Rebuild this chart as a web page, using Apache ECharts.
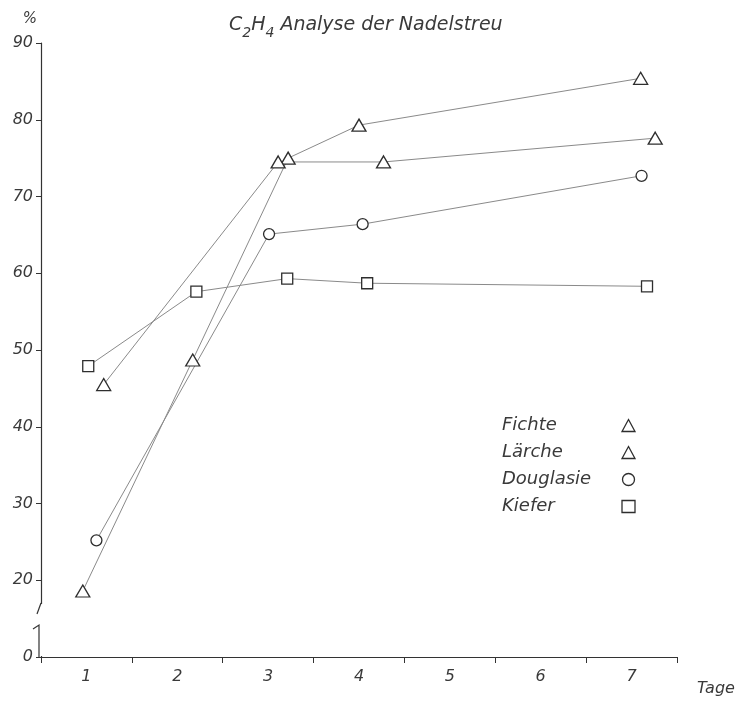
<!DOCTYPE html>
<html><head><meta charset="utf-8">
<script src="https://cdn.jsdelivr.net/npm/echarts@6/dist/echarts.min.js"></script>
<style>html,body{margin:0;padding:0;background:#fff}#c{width:738px;height:704px}</style>
</head><body><div id="c"></div>
<script>
// ---- data ----
const categories = ['1', '2', '3', '4', '5', '6', '7'];
const seriesNames = ['Fichte', 'Lärche', 'Douglasie', 'Kiefer'];
const fichteX = [0.96, 2.17, 3.22, 4.0, 7.1];
const fichteY = [18.6, 48.7, 75.0, 79.3, 85.4];
const laercheX = [1.19, 3.11, 4.27, 7.26];
const laercheY = [45.5, 74.5, 74.5, 77.6];
const douglasieX = [1.11, 3.01, 4.04, 7.11];
const douglasieY = [25.2, 65.1, 66.4, 72.7];
const kieferX = [1.02, 2.21, 3.21, 4.09, 7.17];
const kieferY = [47.9, 57.6, 59.3, 58.7, 58.3];
const yMin = 10, yMax = 90, yStep = 10;   // the axis is broken below 20; bottom tick shows 0

const FONT = 'DejaVu Sans';
const TXT = '#3a3a3a';
const pairs = (xs, ys) => xs.map((x, i) => [x, ys[i]]);

const markStyle = { color: '#fff', borderColor: '#2e2e2e', borderWidth: 1.3 };
const lineStyle = { color: '#8a8a8a', width: 1 };
function mkSeries(name, xs, ys, symbol, size) {
  return {
    name, type: 'line', xAxisIndex: 1, yAxisIndex: 0,
    data: pairs(xs, ys), symbol, symbolSize: size, showAllSymbol: true,
    itemStyle: markStyle, lineStyle: lineStyle, z: 3
  };
}

const option = {
  animation: false,
  backgroundColor: '#fff',
  title: {
    left: 224, top: 5,
    text: '{n|C}{s|2}{n|H}{s|4}{n| Analyse der Nadelstreu}',
    textStyle: {
      fontWeight: 'normal',
      rich: {
        n: { fontFamily: FONT, fontStyle: 'italic', fontWeight: 'normal', fontSize: 19, color: TXT, lineHeight: 30, verticalAlign: 'middle' },
        s: { fontFamily: FONT, fontStyle: 'italic', fontWeight: 'normal', fontSize: 14, color: TXT, lineHeight: 30, verticalAlign: 'bottom' }
      }
    }
  },
  grid: { left: 41, right: 61, top: 43, bottom: 47, containLabel: false },
  legend: {
    orient: 'vertical', left: 497, top: 411, align: 'right',
    itemWidth: 13, itemHeight: 12, itemGap: 8,
    itemStyle: markStyle,
    lineStyle: { width: 0 },
    formatter: name => '{a|' + name + '}',
    textStyle: {
      fontFamily: FONT, fontStyle: 'italic', fontSize: 18, color: TXT, lineHeight: 19,
      rich: { a: { fontFamily: FONT, fontStyle: 'italic', fontSize: 18, color: TXT, width: 115, align: 'left', lineHeight: 19 } }
    },
    data: [
      { name: 'Fichte', icon: 'triangle' },
      { name: 'Lärche', icon: 'triangle' },
      { name: 'Douglasie', icon: 'circle' },
      { name: 'Kiefer', icon: 'rect' }
    ]
  },
  xAxis: [
    {
      type: 'category', data: categories, boundaryGap: true,
      name: 'Tage', nameLocation: 'end', nameGap: 20,
      nameTextStyle: { fontFamily: FONT, fontStyle: 'italic', fontSize: 16, color: TXT, align: 'left', verticalAlign: 'top', padding: [24, 0, 0, 0] },
      axisLine: { lineStyle: { color: '#333', width: 1.2 } },
      axisTick: { show: true, inside: false, length: 6, alignWithLabel: false, lineStyle: { color: '#333' } },
      axisLabel: { fontFamily: FONT, fontStyle: 'italic', fontSize: 16, color: TXT, margin: 12 },
      splitLine: { show: false }
    },
    { type: 'value', min: 0.5, max: 7.5, show: false }
  ],
  yAxis: {
    type: 'value', min: yMin, max: yMax, interval: yStep,
    axisLine: { show: true, lineStyle: { color: '#333', width: 1.2 } },
    axisTick: { show: true, inside: false, length: 5, lineStyle: { color: '#333' } },
    axisLabel: {
      fontFamily: FONT, fontStyle: 'italic', fontSize: 16, color: TXT, margin: 8,
      formatter: v => (v === yMin ? '0' : String(v))
    },
    splitLine: { show: false },
    name: '%', nameLocation: 'end', nameGap: 16,
    nameTextStyle: { fontFamily: FONT, fontStyle: 'italic', fontSize: 15, color: TXT, align: 'right', padding: [0, 4, 0, 0] }
  },
  series: [
    mkSeries(seriesNames[0], fichteX, fichteY, 'triangle', [14, 12]),
    mkSeries(seriesNames[1], laercheX, laercheY, 'triangle', [14, 12]),
    mkSeries(seriesNames[2], douglasieX, douglasieY, 'circle', 11),
    mkSeries(seriesNames[3], kieferX, kieferY, 'rect', 11)
  ]
};

const chart = echarts.init(document.getElementById('c'));
chart.setOption(option);

// axis-break decoration on the y axis (between 20 and 0)
const bx = chart.convertToPixel({ xAxisIndex: 1 }, 0.5);
const by = chart.convertToPixel({ yAxisIndex: 0 }, yMin);
chart.setOption({
  graphic: [
    { type: 'rect', z: 100, shape: { x: bx - 4, y: by - 53, width: 8, height: 52 }, style: { fill: '#fff' } },
    { type: 'polyline', z: 101, shape: { points: [[bx, by - 54], [bx - 4, by - 43]] }, style: { stroke: '#333', lineWidth: 1.2, fill: null } },
    { type: 'polyline', z: 101, shape: { points: [[bx - 8, by - 28], [bx - 2, by - 32], [bx - 2, by]] }, style: { stroke: '#333', lineWidth: 1.2, fill: null } }
  ]
});
</script>
</body></html>
